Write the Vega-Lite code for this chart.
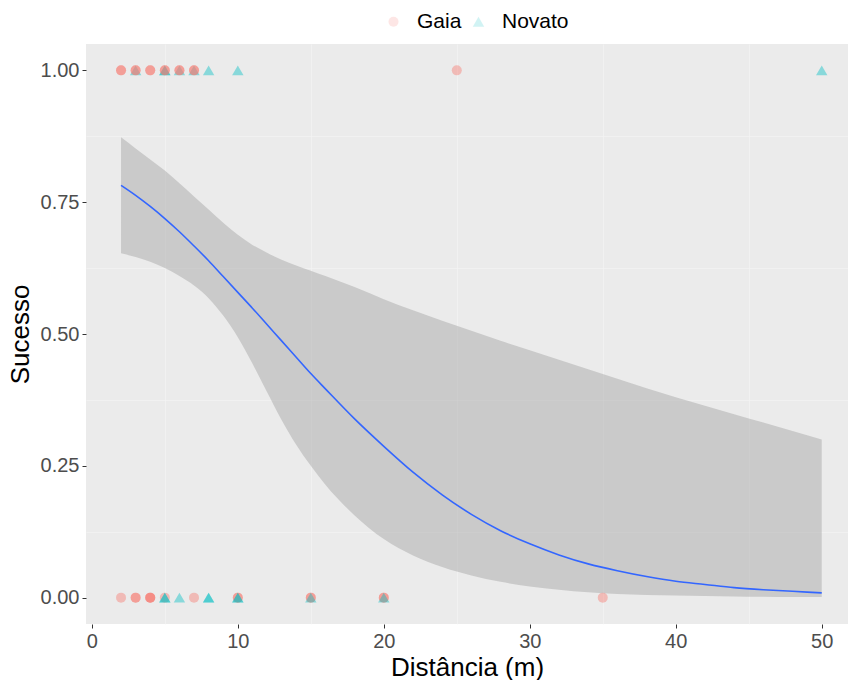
{
  "$schema": "https://vega.github.io/schema/vega-lite/v6.json",
  "autosize": "none",
  "width": 762,
  "height": 580,
  "padding": {"left": 86, "top": 44, "right": 0, "bottom": 56},
  "background": "white",
  "view": {"fill": "#EBEBEB", "stroke": null},
  "config": {
    "font": "Liberation Sans",
    "axis": {
      "labelFont": "Liberation Sans",
      "titleFont": "Liberation Sans",
      "labelFontSize": 20,
      "labelColor": "#4D4D4D",
      "titleFontSize": 26,
      "titleFontWeight": "normal",
      "titleColor": "black",
      "tickColor": "#333333",
      "tickSize": 4,
      "domain": false,
      "gridColor": "white",
      "gridWidth": 1.2
    }
  },
  "datasets": {
    "pts": [
      {"d": 2, "s": 1, "g": "Gaia"}, {"d": 2, "s": 1, "g": "Gaia"},
      {"d": 3, "s": 1, "g": "Novato"}, {"d": 3, "s": 1, "g": "Gaia"}, {"d": 3, "s": 1, "g": "Gaia"},
      {"d": 4, "s": 1, "g": "Gaia"}, {"d": 4, "s": 1, "g": "Gaia"},
      {"d": 5, "s": 1, "g": "Novato"}, {"d": 5, "s": 1, "g": "Novato"}, {"d": 5, "s": 1, "g": "Gaia"}, {"d": 5, "s": 1, "g": "Gaia"},
      {"d": 6, "s": 1, "g": "Novato"}, {"d": 6, "s": 1, "g": "Gaia"}, {"d": 6, "s": 1, "g": "Gaia"},
      {"d": 7, "s": 1, "g": "Novato"}, {"d": 7, "s": 1, "g": "Gaia"}, {"d": 7, "s": 1, "g": "Gaia"},
      {"d": 8, "s": 1, "g": "Novato"},
      {"d": 10, "s": 1, "g": "Novato"},
      {"d": 25, "s": 1, "g": "Gaia"},
      {"d": 50, "s": 1, "g": "Novato"},
      {"d": 2, "s": 0, "g": "Gaia"},
      {"d": 3, "s": 0, "g": "Gaia"}, {"d": 3, "s": 0, "g": "Gaia"},
      {"d": 4, "s": 0, "g": "Gaia"}, {"d": 4, "s": 0, "g": "Gaia"}, {"d": 4, "s": 0, "g": "Gaia"},
      {"d": 5, "s": 0, "g": "Gaia"}, {"d": 5, "s": 0, "g": "Novato"}, {"d": 5, "s": 0, "g": "Novato"},
      {"d": 6, "s": 0, "g": "Novato"},
      {"d": 7, "s": 0, "g": "Gaia"},
      {"d": 8, "s": 0, "g": "Novato"}, {"d": 8, "s": 0, "g": "Novato"},
      {"d": 10, "s": 0, "g": "Gaia"}, {"d": 10, "s": 0, "g": "Gaia"}, {"d": 10, "s": 0, "g": "Novato"}, {"d": 10, "s": 0, "g": "Novato"},
      {"d": 15, "s": 0, "g": "Gaia"}, {"d": 15, "s": 0, "g": "Gaia"}, {"d": 15, "s": 0, "g": "Novato"},
      {"d": 20, "s": 0, "g": "Gaia"}, {"d": 20, "s": 0, "g": "Gaia"}, {"d": 20, "s": 0, "g": "Novato"},
      {"d": 35, "s": 0, "g": "Gaia"}
    ],
    "fit": [
      {"d": 2, "fit": 0.782, "lo": 0.653, "hi": 0.873},
      {"d": 3, "fit": 0.763, "lo": 0.646, "hi": 0.852},
      {"d": 4, "fit": 0.742, "lo": 0.637, "hi": 0.831},
      {"d": 5, "fit": 0.719, "lo": 0.625, "hi": 0.810},
      {"d": 6, "fit": 0.694, "lo": 0.610, "hi": 0.786},
      {"d": 7, "fit": 0.667, "lo": 0.592, "hi": 0.761},
      {"d": 8, "fit": 0.639, "lo": 0.568, "hi": 0.736},
      {"d": 9, "fit": 0.609, "lo": 0.535, "hi": 0.711},
      {"d": 10, "fit": 0.579, "lo": 0.494, "hi": 0.688},
      {"d": 11, "fit": 0.549, "lo": 0.444, "hi": 0.669},
      {"d": 12, "fit": 0.518, "lo": 0.390, "hi": 0.654},
      {"d": 13, "fit": 0.487, "lo": 0.337, "hi": 0.641},
      {"d": 14, "fit": 0.456, "lo": 0.290, "hi": 0.630},
      {"d": 15, "fit": 0.425, "lo": 0.250, "hi": 0.620},
      {"d": 16, "fit": 0.396, "lo": 0.214, "hi": 0.610},
      {"d": 18, "fit": 0.339, "lo": 0.156, "hi": 0.589},
      {"d": 20, "fit": 0.287, "lo": 0.111, "hi": 0.566},
      {"d": 22, "fit": 0.238, "lo": 0.080, "hi": 0.545},
      {"d": 24, "fit": 0.195, "lo": 0.058, "hi": 0.525},
      {"d": 26, "fit": 0.158, "lo": 0.042, "hi": 0.506},
      {"d": 28, "fit": 0.127, "lo": 0.030, "hi": 0.487},
      {"d": 30, "fit": 0.102, "lo": 0.021, "hi": 0.469},
      {"d": 32, "fit": 0.081, "lo": 0.015, "hi": 0.451},
      {"d": 34, "fit": 0.064, "lo": 0.010, "hi": 0.433},
      {"d": 36, "fit": 0.051, "lo": 0.007, "hi": 0.415},
      {"d": 38, "fit": 0.040, "lo": 0.005, "hi": 0.397},
      {"d": 40, "fit": 0.031, "lo": 0.004, "hi": 0.380},
      {"d": 42, "fit": 0.025, "lo": 0.003, "hi": 0.364},
      {"d": 44, "fit": 0.019, "lo": 0.002, "hi": 0.348},
      {"d": 46, "fit": 0.015, "lo": 0.0015, "hi": 0.332},
      {"d": 48, "fit": 0.012, "lo": 0.001, "hi": 0.316},
      {"d": 50, "fit": 0.009, "lo": 0.001, "hi": 0.300}
    ]
  },
  "layer": [
    {
      "data": {"name": "fit"},
      "mark": {"type": "area", "color": "#999999", "opacity": 0.4, "interpolate": "monotone"},
      "encoding": {
        "x": {"field": "d", "type": "quantitative", "scale": {"domain": [-0.4, 51.8], "nice": false, "zero": false},
          "axis": {"orient": "bottom", "values": [5, 15, 25, 35, 45], "labels": false, "ticks": false, "title": null, "gridColor": "#F5F5F5", "gridWidth": 0.6}},
        "y": {"field": "lo", "type": "quantitative", "scale": {"domain": [-0.05, 1.05], "nice": false, "zero": false},
          "axis": {"orient": "left", "values": [0.125, 0.375, 0.625, 0.875], "labels": false, "ticks": false, "title": null, "gridColor": "#F5F5F5", "gridWidth": 0.6}},
        "y2": {"field": "hi"}
      }
    },
    {
      "data": {"name": "fit"},
      "mark": {"type": "line", "color": "#3366FF", "strokeWidth": 1.6, "interpolate": "monotone"},
      "encoding": {
        "x": {"field": "d", "type": "quantitative", "axis": null},
        "y": {"field": "fit", "type": "quantitative", "axis": null}
      }
    },
    {
      "data": {"name": "pts"},
      "mark": {"type": "point", "filled": true, "opacity": 0.42, "strokeWidth": 0},
      "encoding": {
        "x": {"field": "d", "type": "quantitative", "title": "Distância (m)",
          "axis": {"orient": "bottom", "values": [0, 10, 20, 30, 40, 50], "labelPadding": 3, "titlePadding": 3}},
        "y": {"field": "s", "type": "quantitative", "title": "Sucesso",
          "axis": {"orient": "left", "values": [0, 0.25, 0.5, 0.75, 1], "format": ".2f", "labelPadding": 3, "titlePadding": 7}},
        "color": {"field": "g", "type": "nominal", "title": null,
          "scale": {"domain": ["Gaia", "Novato"], "range": ["#F8766D", "#00BFC4"]},
          "legend": {"orient": "none", "legendX": 297, "legendY": -33, "direction": "horizontal",
            "labelFontSize": 21, "labelFont": "Liberation Sans", "labelColor": "black", "symbolOpacity": 0.4,
            "columnPadding": 6, "labelOffset": 13}},
        "shape": {"field": "g", "type": "nominal", "title": null,
          "scale": {"domain": ["Gaia", "Novato"], "range": ["circle", "triangle-up"]}},
        "size": {"field": "g", "type": "nominal", "title": null,
          "scale": {"domain": ["Gaia", "Novato"], "range": [100, 130]}}
      }
    }
  ],
  "resolve": {"axis": {"x": "independent", "y": "independent"}}
}
